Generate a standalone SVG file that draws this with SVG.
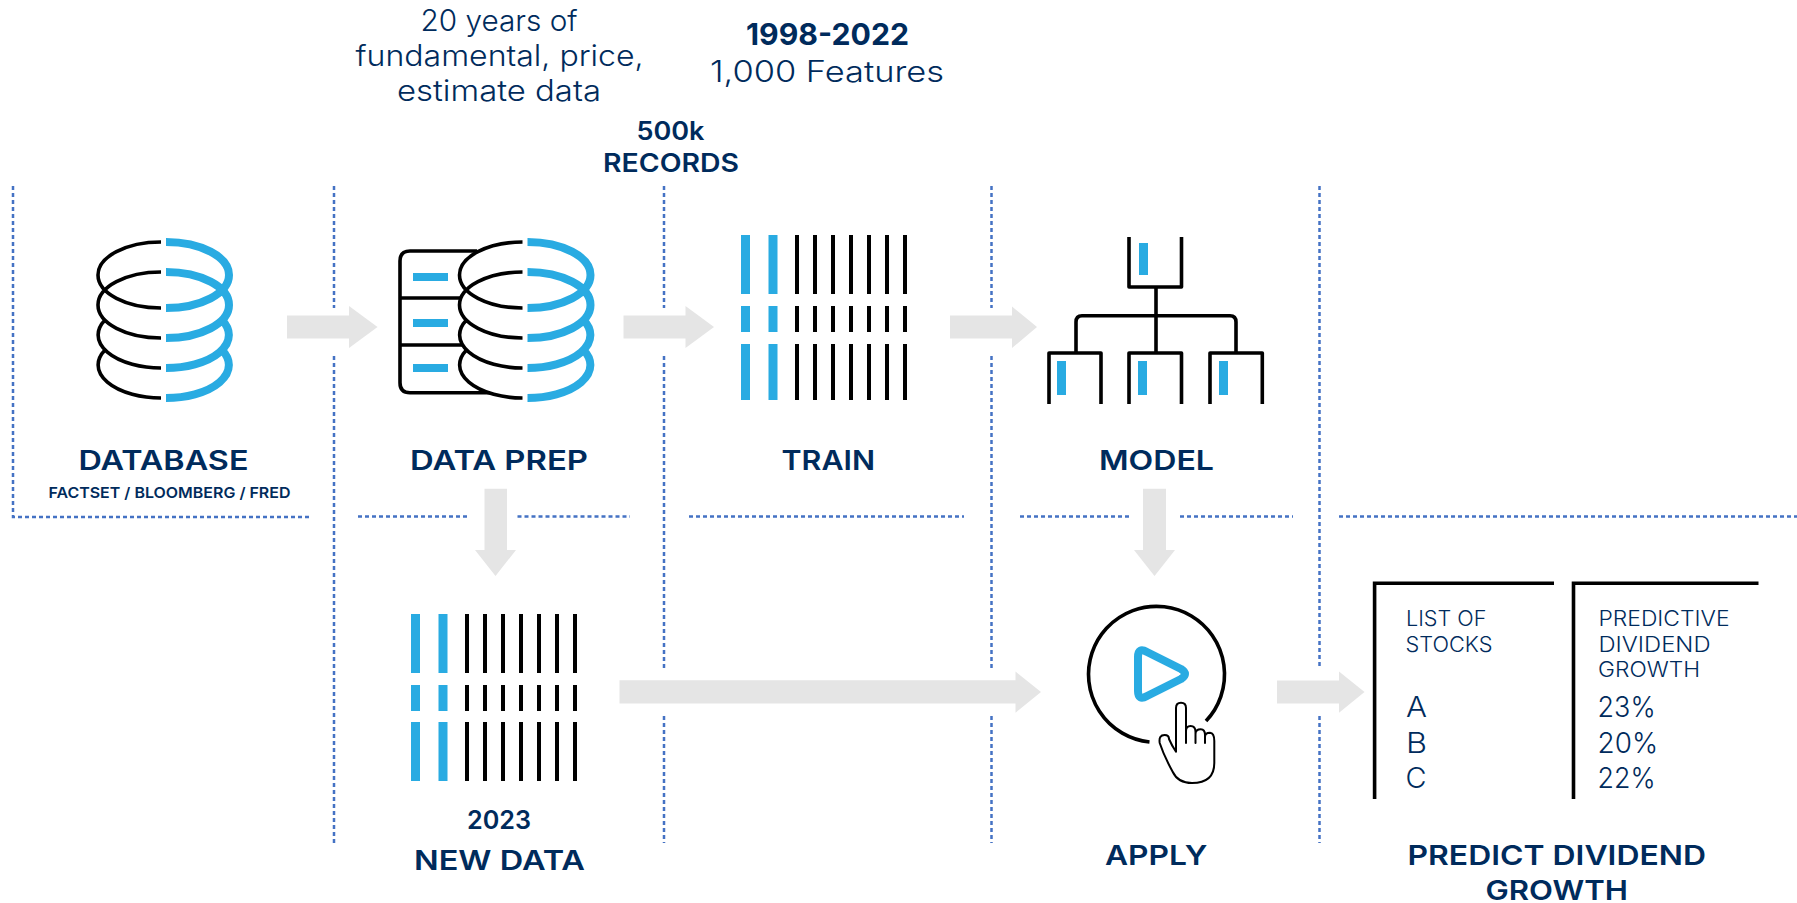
<svg xmlns="http://www.w3.org/2000/svg" xmlns:xlink="http://www.w3.org/1999/xlink" width="1797" height="903" viewBox="0 0 1797 903">
<style>
text{font-family:"Inter","Noto Sans","Liberation Sans",sans-serif;fill:#002b5c}
.h{font-size:27px;font-weight:600}
.m{font-size:25px;font-weight:600}
.l{font-size:29.500px;font-weight:300}
.t{font-size:21px;font-weight:350}
.v{font-size:28px;font-weight:350}
.s{font-size:15px;font-weight:600}
.dot{stroke:#4472c4;stroke-width:2.500;stroke-dasharray:4 3;fill:none}
.arrow{fill:#e5e5e5}
.k{fill:none;stroke:#000;stroke-width:3.600}
.b{fill:none;stroke:#29abe2;stroke-width:8}
.kf{fill:#000}
.bf{fill:#29abe2}
</style>
<defs>
<g id="cyl">
<path class="k" d="M161 242A63 33 0 0 0 161 308M161 272A63 33 0 0 0 161 338M105 320A63 33 0 0 0 161 368M105 350A63 33 0 0 0 161 398"/>
<path class="b" d="M166 242A63 33 0 0 1 166 308M166 272A63 33 0 0 1 166 338M222 320A63 33 0 0 1 166 368M222 350A63 33 0 0 1 166 398"/>
</g>
<g id="row">
<rect class="bf" x="0" y="0" width="9" height="1"/><rect class="bf" x="27.500" y="0" width="9" height="1"/>
<rect class="kf" x="54" y="0" width="4" height="1"/><rect class="kf" x="72" y="0" width="4" height="1"/><rect class="kf" x="90" y="0" width="4" height="1"/><rect class="kf" x="108" y="0" width="4" height="1"/><rect class="kf" x="126" y="0" width="4" height="1"/><rect class="kf" x="144" y="0" width="4" height="1"/><rect class="kf" x="162" y="0" width="4" height="1"/>
</g>
</defs>
<g id="dividers">
<path class="dot" d="M13 186V517H310M334 186V308M334 356V843M664 186V308M664 356V668M664 716V843M991.500 186V308M991.500 356V668M991.500 716V843M1319.500 186V668M1319.500 716V843"/>
<path class="dot" d="M358 516.500H470M517.500 516.500H630M689 516.500H964M1020 516.500H1132M1180 516.500H1293M1339 516.500H1797"/>
</g>
<g id="connectors">
<path class="arrow" d="M287 315.500H349V306L377.500 327 349 348V338.500H287Z"/>
<path class="arrow" d="M623.500 315.500H685.500V306L714 327 685.500 348V338.500H623.500Z"/>
<path class="arrow" d="M950 315.500H1012V306.500L1037 327 1012 348V338.500H950Z"/>
<path class="arrow" d="M484.500 488.700H507V550H516L495.500 576 475 550H484.500Z"/>
<path class="arrow" d="M1143 488.700H1166V550H1175L1154.500 576 1134 550H1143Z"/>
<path class="arrow" d="M619.500 680.300H1015.500V671.500L1041 692 1015.500 712.700V703.500H619.500Z"/>
<path class="arrow" d="M1277 680.500H1339V671.500L1364.500 692 1339 712.700V703.500H1277Z"/>
</g>
<g id="database">
<use xlink:href="#cyl" href="#cyl"/>
<text class="h" x="78.500" y="469.500" textLength="170" lengthAdjust="spacingAndGlyphs">DATABASE</text>
<text class="s" x="48.500" y="497.700" textLength="242" lengthAdjust="spacingAndGlyphs">FACTSET / BLOOMBERG / FRED</text>
</g>
<g id="data-prep">
<path class="k" d="M477 251H410Q400 251 400 261V382.700Q400 392.700 410 392.700H490M400 298H461M400 345H463"/>
<rect class="bf" x="413" y="273" width="35" height="8"/><rect class="bf" x="413" y="319" width="35" height="8"/><rect class="bf" x="413" y="364" width="35" height="8"/>
<use xlink:href="#cyl" href="#cyl" x="361.500"/>
<text class="h" x="410" y="469.500" textLength="178" lengthAdjust="spacingAndGlyphs">DATA PREP</text>
</g>
<g id="train">
<use xlink:href="#row" href="#row" transform="translate(741 235) scale(1 59)"/>
<use xlink:href="#row" href="#row" transform="translate(741 306) scale(1 26)"/>
<use xlink:href="#row" href="#row" transform="translate(741 344) scale(1 56)"/>
<text class="h" x="781.500" y="469.500" textLength="93.500" lengthAdjust="spacingAndGlyphs">TRAIN</text>
</g>
<g id="model">
<path class="k" stroke-linejoin="round" d="M1129 237V287H1181.500V237M1156 287V353M1076 353V322Q1076 315.700 1082 315.700H1230Q1236 315.700 1236 322V353M1049 404V353H1101V404M1129 404V353H1181.500V404M1210 404V353H1262.300V404"/>
<rect class="bf" x="1139" y="243" width="9" height="32"/>
<rect class="bf" x="1057" y="361" width="9" height="34"/><rect class="bf" x="1138" y="361" width="9" height="34"/><rect class="bf" x="1219" y="361" width="9" height="34"/>
<text class="h" x="1099" y="469.500" textLength="115" lengthAdjust="spacingAndGlyphs">MODEL</text>
</g>
<g id="new-data">
<use xlink:href="#row" href="#row" transform="translate(411 614) scale(1 59)"/>
<use xlink:href="#row" href="#row" transform="translate(411 685) scale(1 26)"/>
<use xlink:href="#row" href="#row" transform="translate(411 722) scale(1 59)"/>
<text class="m" x="467" y="828.700" textLength="64" lengthAdjust="spacingAndGlyphs">2023</text>
<text class="h" x="414" y="869.500" textLength="171" lengthAdjust="spacingAndGlyphs">NEW DATA</text>
</g>
<g id="apply">
<path class="k" d="M1206 721A68 68 0 1 0 1149.500 742"/>
<path class="b" stroke-linejoin="round" d="M1138 657Q1138 647 1147 652L1181 669Q1189 674 1181 679L1147 696Q1138 701 1138 691Z"/>
<path fill="none" stroke="#000" stroke-width="2" stroke-linejoin="round" stroke-linecap="round" d="M1176 751.700V708Q1176 702.700 1181 702.700 1186 702.700 1186 708V743M1186 731Q1186 726 1190.600 726 1195.500 726 1195.500 732V743M1195.500 734Q1195.500 729.300 1200.800 729.300 1205 729.300 1205 735V743M1205 737Q1205 732.700 1210 732.700 1214.300 733 1214.300 741V763Q1214.300 783 1192 783 1178 783 1172.800 772 1164 756 1159.700 743 1158.500 735 1164.600 735 1169 735 1169 739 1172 746 1176 751.700"/>
<text class="h" x="1105" y="864.500" textLength="102.500" lengthAdjust="spacingAndGlyphs">APPLY</text>
</g>
<g id="predict">
<path class="k" d="M1374.600 799V583.300H1554M1573.500 799V583.300H1758.500"/>
<text class="t" x="1406" y="626" textLength="80.500" lengthAdjust="spacingAndGlyphs">LIST OF</text>
<text class="t" x="1405.500" y="651.700" textLength="87" lengthAdjust="spacingAndGlyphs">STOCKS</text>
<text class="t" x="1598.500" y="626" textLength="131" lengthAdjust="spacingAndGlyphs">PREDICTIVE</text>
<text class="t" x="1598.500" y="651.700" textLength="112" lengthAdjust="spacingAndGlyphs">DIVIDEND</text>
<text class="t" x="1598" y="677" textLength="102" lengthAdjust="spacingAndGlyphs">GROWTH</text>
<text class="v" x="1406" y="717.300" textLength="21" lengthAdjust="spacingAndGlyphs">A</text>
<text class="v" x="1406" y="753.300" textLength="21" lengthAdjust="spacingAndGlyphs">B</text>
<text class="v" x="1405.500" y="788.300" textLength="21" lengthAdjust="spacingAndGlyphs">C</text>
<text class="v" x="1597.600" y="717.300" textLength="58" lengthAdjust="spacingAndGlyphs">23%</text>
<text class="v" x="1597.600" y="753.300" textLength="60.500" lengthAdjust="spacingAndGlyphs">20%</text>
<text class="v" x="1597.600" y="788.300" textLength="58" lengthAdjust="spacingAndGlyphs">22%</text>
<text class="h" x="1407.500" y="864.500" textLength="298.500" lengthAdjust="spacingAndGlyphs">PREDICT DIVIDEND</text>
<text class="h" x="1485.500" y="900" textLength="142.500" lengthAdjust="spacingAndGlyphs">GROWTH</text>
</g>
<g id="captions">
<text class="l" x="420.500" y="31" textLength="157" lengthAdjust="spacingAndGlyphs">20 years of</text>
<text class="l" x="355.500" y="65.700" textLength="288" lengthAdjust="spacingAndGlyphs">fundamental, price,</text>
<text class="l" x="397" y="100.500" textLength="204" lengthAdjust="spacingAndGlyphs">estimate data</text>
<text x="746" y="44.500" font-size="30" font-weight="700" textLength="163" lengthAdjust="spacingAndGlyphs">1998-2022</text>
<text class="l" x="710" y="82.200" textLength="234" lengthAdjust="spacingAndGlyphs">1,000 Features</text>
<text class="m" x="636.500" y="140" textLength="68" lengthAdjust="spacingAndGlyphs">500k</text>
<text class="m" x="603" y="171.700" textLength="136" lengthAdjust="spacingAndGlyphs">RECORDS</text>
</g>
</svg>
